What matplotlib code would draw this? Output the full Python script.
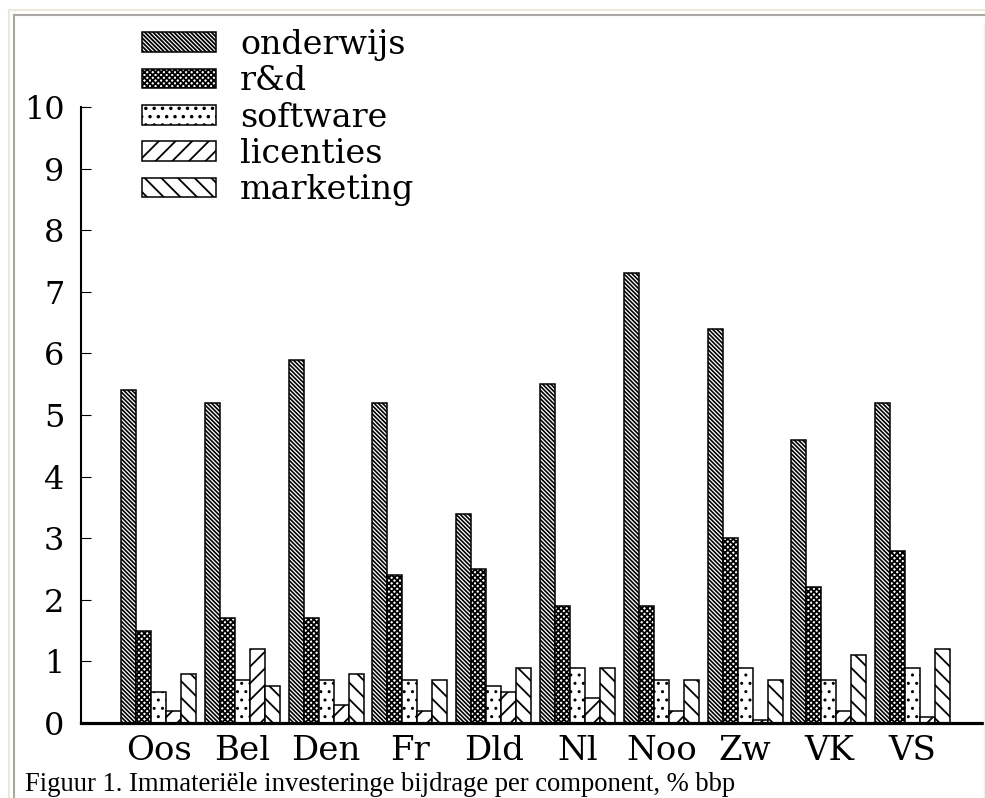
import matplotlib
matplotlib.use("Agg")
import matplotlib.pyplot as plt
import numpy as np
from matplotlib.lines import Line2D

landen = ["Oos", "Bel", "Den", "Fr", "Dld", "Nl", "Noo", "Zw", "VK", "VS"]
onderwijs = [5.4, 5.2, 5.9, 5.2, 3.4, 5.5, 7.3, 6.4, 4.6, 5.2]
rend = [1.5, 1.7, 1.7, 2.4, 2.5, 1.9, 1.9, 3.0, 2.2, 2.8]
software = [0.5, 0.7, 0.7, 0.7, 0.6, 0.9, 0.7, 0.9, 0.7, 0.9]
licenties = [0.2, 1.2, 0.3, 0.2, 0.5, 0.4, 0.2, 0.05, 0.2, 0.1]
marketing = [0.8, 0.6, 0.8, 0.7, 0.9, 0.9, 0.7, 0.7, 1.1, 1.2]

reeksen = [
    ("onderwijs", onderwijs, "\\" * 8, 1.2),
    ("r&d", rend, "xxxxxx", 1.3),
    ("software", software, "..", 1.0),
    ("licenties", licenties, "//", 1.3),
    ("marketing", marketing, "\\\\", 1.3),
]

plt.rcParams["font.family"] = "DejaVu Serif"

fig = plt.figure(figsize=(9.85, 7.98), dpi=100)
ax = fig.add_axes([81 / 985, 1 - 723 / 798, 1 - 81 / 985, (723 - 107) / 798])

x = np.arange(len(landen))
w = 0.179
handles = []
for k, (naam, vals, hatch, hlw) in enumerate(reeksen):
    plt.rcParams["hatch.linewidth"] = hlw
    bars = ax.bar(x + (k - 2) * w, vals, width=w, color="white",
                  edgecolor="black", linewidth=1.1, hatch=hatch, label=naam)
    for p in bars:
        if hasattr(p, "set_hatch_linewidth"):
            p.set_hatch_linewidth(hlw)
    handles.append(bars)

ax.set_xlim(-0.925, 9.862)
ax.set_ylim(0, 10)
ax.set_yticks(range(0, 11))
ax.set_xticks(x)
ax.set_xticklabels(landen, fontsize=24.5)
ax.tick_params(axis="y", direction="in", length=7, width=0.8, pad=12,
               labelsize=23)
ax.tick_params(axis="x", length=0, pad=9)
for s in ["top", "right"]:
    ax.spines[s].set_visible(False)
ax.spines["left"].set_linewidth(1.5)
ax.spines["bottom"].set_linewidth(2.3)
ax.set_facecolor("none")

fig.legend(handles=handles, loc="upper left",
           bbox_to_anchor=(142 / 985, 1 - 29 / 798), frameon=False,
           fontsize=24, handlelength=2.22, handleheight=0.54,
           handletextpad=0.72, labelspacing=0.13, borderpad=0,
           borderaxespad=0)

fig.text(25 / 985, 1 - 791 / 798,
         "Figuur 1. Immateriële investeringe bijdrage per component, % bbp",
         family="Liberation Serif", fontsize=19.2, va="baseline", ha="left")

# kader rond de figuur
for xs, ys, c, lw in [
    ([9, 9], [798, 10], "#ECE9D8", 1.5),
    ([9, 985], [10, 10], "#ECE9D8", 1.5),
    ([14, 14], [798, 15], "#A8A8A0", 1.5),
    ([14, 985], [15, 15], "#A8A8A0", 1.5),
    ([984, 984], [24, 798], "#EEEEEE", 1.0),
]:
    fig.add_artist(Line2D(np.array(xs) / 985, 1 - np.array(ys) / 798,
                          color=c, linewidth=lw))

fig.savefig("out.png", dpi=100, facecolor="white")
